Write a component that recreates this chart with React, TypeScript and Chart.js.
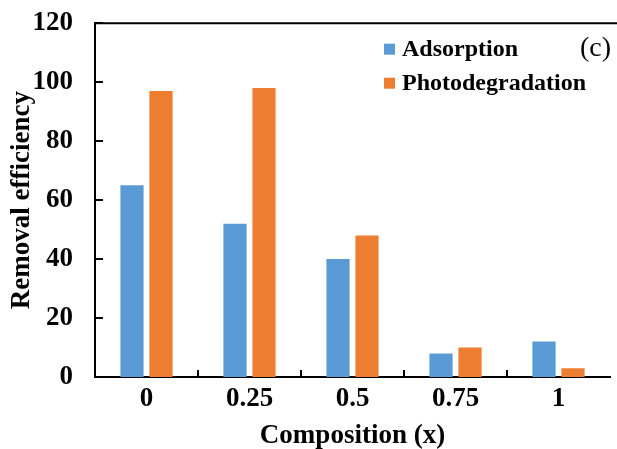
import React, { useEffect, useRef } from "react";
import { Chart, registerables } from "chart.js";

Chart.register(...registerables);

const categories = ["0", "0.25", "0.5", "0.75", "1"];
const adsorption = [65, 52, 40, 8, 12];
const photodegradation = [97, 98, 48, 10, 3];
const seriesNames = ["Adsorption", "Photodegradation"];
const yTicks = { min: 0, max: 120, step: 20 };
const panelLabel = "(c)";
const xTitle = "Composition (x)";
const yTitle = "Removal efficiency";

const FONT = '"Liberation Serif", "Times New Roman", serif';
const BLUE = "#5B9BD5";
const ORANGE = "#ED7D31";
const AXIS_FONT = 27;

const decorPlugin = {
  id: "decor",
  afterDraw(chart: any) {
    const { ctx, chartArea } = chart;
    const x = chart.scales.x;
    const y = chart.scales.y;
    ctx.save();
    ctx.strokeStyle = "#000";
    ctx.lineWidth = 2;
    // top border
    ctx.beginPath();
    ctx.moveTo(chartArea.left - 1, chartArea.top);
    ctx.lineTo(chart.width, chartArea.top);
    ctx.stroke();
    // y inward ticks
    y.ticks.forEach((t: any) => {
      const py = Math.round(y.getPixelForValue(t.value));
      ctx.beginPath();
      ctx.moveTo(chartArea.left, py);
      ctx.lineTo(chartArea.left + 8, py);
      ctx.stroke();
    });
    // x inward ticks between categories
    const n = chart.data.labels.length;
    for (let i = 0; i < n - 1; i++) {
      const px = Math.round((x.getPixelForValue(i) + x.getPixelForValue(i + 1)) / 2);
      ctx.beginPath();
      ctx.moveTo(px, chartArea.bottom);
      ctx.lineTo(px, chartArea.bottom - 7);
      ctx.stroke();
    }
    // legend
    const lx = chartArea.left + 289;
    const ly0 = chartArea.top + 26;
    chart.data.datasets.forEach((ds: any, i: number) => {
      const cy = ly0 + i * 34;
      ctx.fillStyle = ds.backgroundColor;
      ctx.fillRect(lx, cy - 5.5, 11, 11);
      ctx.fillStyle = "#000";
      ctx.font = `bold 24px ${FONT}`;
      ctx.textBaseline = "middle";
      ctx.textAlign = "left";
      ctx.fillText(ds.label, lx + 18, cy + 1);
    });
    // panel label
    ctx.font = `28px ${FONT}`;
    ctx.textAlign = "left";
    ctx.textBaseline = "middle";
    ctx.fillStyle = "#000";
    ctx.fillText(panelLabel, chartArea.left + 485, chartArea.top + 25);
    ctx.restore();
  },
};

export default function App() {
  const ref = useRef<HTMLCanvasElement>(null);
  useEffect(() => {
    if (!ref.current) return;
    const chart = new Chart(ref.current, {
      type: "bar",
      data: {
        labels: categories,
        datasets: [
          {
            label: seriesNames[0],
            data: adsorption,
            backgroundColor: BLUE,
            categoryPercentage: 0.563,
            barPercentage: 0.8,
          },
          {
            label: seriesNames[1],
            data: photodegradation,
            backgroundColor: ORANGE,
            categoryPercentage: 0.563,
            barPercentage: 0.8,
          },
        ],
      },
      plugins: [decorPlugin],
      options: {
        responsive: false,
        animation: false,
        devicePixelRatio: 1,
        layout: { padding: { left: 6, right: 7, top: 0, bottom: 0 } },
        plugins: {
          legend: { display: false },
          tooltip: { enabled: false },
        },
        scales: {
          x: {
            grid: { display: false, drawTicks: false },
            border: { display: true, color: "#000", width: 2 },
            ticks: {
              color: "#000",
              font: { family: FONT, size: AXIS_FONT, weight: "bold" },
              padding: 6,
              maxRotation: 0,
            },
            title: {
              display: true,
              text: xTitle,
              color: "#000",
              font: { family: FONT, size: AXIS_FONT, weight: "bold" },
              padding: { top: 0, bottom: 0 },
            },
            afterFit(scale: any) {
              scale.height = 75;
            },
          },
          y: {
            min: yTicks.min,
            max: yTicks.max,
            grid: { display: false, drawTicks: false },
            border: { display: true, color: "#000", width: 2 },
            ticks: {
              stepSize: yTicks.step,
              color: "#000",
              font: { family: FONT, size: AXIS_FONT, weight: "bold" },
              padding: 22,
            },
            title: {
              display: true,
              text: yTitle,
              color: "#000",
              font: { family: FONT, size: AXIS_FONT, weight: "bold" },
              padding: { top: 0, bottom: 0 },
            },
            afterFit(scale: any) {
              scale.width = 89;
            },
          },
        },
      },
    });
    return () => chart.destroy();
  }, []);
  return (
    <div
      style={{
        position: "fixed",
        left: 0,
        top: 0,
        width: 617,
        height: 449,
        overflow: "hidden",
        background: "#fff",
      }}
    >
      <canvas
        ref={ref}
        width={617}
        height={467}
        style={{ display: "block", marginTop: -15 }}
      />
    </div>
  );
}
